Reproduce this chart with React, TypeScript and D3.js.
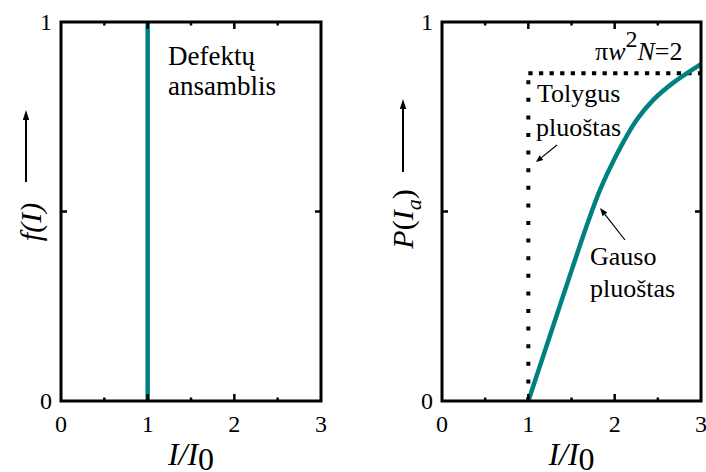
import React from "react";
import * as d3 from "d3";

// Axis ticks and labels
const xTickLabels = ["0", "1", "2", "3"];
const xTickValues = [0, 1, 2, 3];
const xMinorTicks = [0.5, 1.5, 2.5];
const xMajorInner = [1, 2];
const yTickLabels = ["0", "1"];
const yTickValues = [0, 1];
const yMidTicks = [0.5];

// Left panel: defect ensemble threshold level
const defectLevel = [1];

// Right panel: uniform beam (dotted), vertical then plateau
const uniformRise = [
  { x: 1, p: 0 },
  { x: 1, p: 0.865 },
];
const uniformPlateau = [
  { x: 1, p: 0.865 },
  { x: 3, p: 0.865 },
];

// Right panel: Gaussian beam
const gaussX = [1, 1.25, 1.5, 1.68, 1.83, 2.0, 2.25, 2.45, 2.68, 3.0];
const gaussP = [0, 0.172, 0.344, 0.465, 0.557, 0.64, 0.74, 0.795, 0.84, 0.889];

const TEAL = "#008080";
const SERIF = "Times, 'Times New Roman', 'Liberation Serif', 'Nimbus Roman', 'DejaVu Serif', serif";

const W = 706;
const H = 472;
const top = 22;
const bottom = 401;

type Panel = { x0: number; x1: number };

function Frame({ x, y }: { x: d3.ScaleLinear<number, number>; y: d3.ScaleLinear<number, number> }) {
  const [l, r] = x.range();
  const [b, t] = y.range();
  const ticks: React.ReactNode[] = [];
  const xt = [...xMinorTicks.map((v) => ({ v, len: 3.5 })), ...xMajorInner.map((v) => ({ v, len: 7 }))];
  xt.forEach(({ v, len }, i) => {
    ticks.push(<line key={`xb${i}`} x1={x(v)} x2={x(v)} y1={b} y2={b - len} stroke="#000" strokeWidth={2.5} />);
    ticks.push(<line key={`xt${i}`} x1={x(v)} x2={x(v)} y1={t} y2={t + len} stroke="#000" strokeWidth={2.5} />);
  });
  yMidTicks.forEach((v, i) => {
    ticks.push(<line key={`yl${i}`} x1={l} x2={l + 6} y1={y(v)} y2={y(v)} stroke="#000" strokeWidth={2.5} />);
    ticks.push(<line key={`yr${i}`} x1={r} x2={r - 6} y1={y(v)} y2={y(v)} stroke="#000" strokeWidth={2.5} />);
  });
  return (
    <g>
      {ticks}
      <rect x={l} y={t} width={r - l} height={b - t} fill="none" stroke="#000" strokeWidth={3} />
      {xTickValues.map((v, i) => (
        <text key={`xl${i}`} x={x(v)} y={432} textAnchor="middle" fontSize={24}>
          {xTickLabels[i]}
        </text>
      ))}
      {yTickValues.map((v, i) => (
        <text key={`yl${i}`} x={l - 9} y={y(v) + 8} textAnchor="end" fontSize={24}>
          {yTickLabels[i]}
        </text>
      ))}
      <text x={(l + r) / 2} y={465} textAnchor="middle" fontSize={32}>
        <tspan fontStyle="italic">I</tspan>
        <tspan fontStyle="italic">/</tspan>
        <tspan fontStyle="italic">I</tspan>
        <tspan dy={5}>0</tspan>
      </text>
    </g>
  );
}

function Arrow({ x1, y1, x2, y2, head = 8, half = 3, width = 2 }: { x1: number; y1: number; x2: number; y2: number; head?: number; half?: number; width?: number }) {
  const a = Math.atan2(y2 - y1, x2 - x1);
  const bx = x2 - head * Math.cos(a);
  const by = y2 - head * Math.sin(a);
  const px = -Math.sin(a) * half;
  const py = Math.cos(a) * half;
  return (
    <g>
      <line x1={x1} y1={y1} x2={bx} y2={by} stroke="#000" strokeWidth={width} />
      <polygon points={`${x2},${y2} ${bx + px},${by + py} ${bx - px},${by - py}`} fill="#000" />
    </g>
  );
}

export default function App() {
  const left: Panel = { x0: 61, x1: 321 };
  const right: Panel = { x0: 442, x1: 701 };
  const xL = d3.scaleLinear().domain([0, 3]).range([left.x0, left.x1]);
  const xR = d3.scaleLinear().domain([0, 3]).range([right.x0, right.x1]);
  const y = d3.scaleLinear().domain([0, 1]).range([bottom, top]);

  const dotted = d3
    .line<{ x: number; p: number }>()
    .x((d) => xR(d.x))
    .y((d) => y(d.p));

  const gaussData = gaussX.map((x, i) => ({ x, p: gaussP[i] }));
  const gaussLine = d3
    .line<{ x: number; p: number }>()
    .x((d) => xR(d.x))
    .y((d) => y(d.p))
    .curve(d3.curveCatmullRom.alpha(0.5));

  return (
    <svg width={W} height={H} style={{ position: "absolute", left: 0, top: 0, background: "#fff", fontFamily: SERIF }}>
      {/* Left panel */}
      {defectLevel.map((v, i) => (
        <line key={i} x1={xL(v)} x2={xL(v)} y1={y(0)} y2={y(1)} stroke={TEAL} strokeWidth={4.5} />
      ))}
      <Frame x={xL} y={y} />
      <text fontSize={27}>
        <tspan x={168} y={65}>Defektų</tspan>
        <tspan x={168} y={95}>ansamblis</tspan>
      </text>
      <text transform="translate(41,222) rotate(-90)" textAnchor="middle" fontSize={30} fontStyle="italic">
        f(I)
      </text>
      <Arrow x1={26} y1={182} x2={26} y2={110} head={10} half={3.2} />

      {/* Right panel */}
      <path d={dotted(uniformRise) || ""} fill="none" stroke="#000" strokeWidth={4} strokeDasharray="4 13.6" />
      <path d={dotted(uniformPlateau) || ""} fill="none" stroke="#000" strokeWidth={4} strokeDasharray="4.3 6.3" />
      <path d={gaussLine(gaussData) || ""} fill="none" stroke={TEAL} strokeWidth={4.5} />
      <Frame x={xR} y={y} />
      <text x={595} y={60} fontSize={26}>
        <tspan>π</tspan>
        <tspan fontStyle="italic">w</tspan>
        <tspan dy={-13} fontSize={24}>2</tspan>
        <tspan dy={13} fontStyle="italic">N</tspan>
        <tspan>=2</tspan>
      </text>
      <text fontSize={26}>
        <tspan x={537} y={102}>Tolygus</tspan>
        <tspan x={536} y={136}>pluoštas</tspan>
      </text>
      <Arrow x1={557} y1={145} x2={536} y2={162} head={7} half={3} width={1.2} />
      <text fontSize={26}>
        <tspan x={590} y={265}>Gauso</tspan>
        <tspan x={590} y={297}>pluoštas</tspan>
      </text>
      <Arrow x1={625} y1={240} x2={600} y2={208} head={8} half={3} width={1.2} />
      <text transform="translate(413,219) rotate(-90)" textAnchor="middle" fontSize={30}>
        <tspan fontStyle="italic">P</tspan>
        <tspan>(</tspan>
        <tspan fontStyle="italic">I</tspan>
        <tspan fontStyle="italic" fontSize={22} dy={8}>a</tspan>
        <tspan dy={-8}>)</tspan>
      </text>
      <Arrow x1={403} y1={172} x2={403} y2={99} head={10} half={3.2} />
    </svg>
  );
}
